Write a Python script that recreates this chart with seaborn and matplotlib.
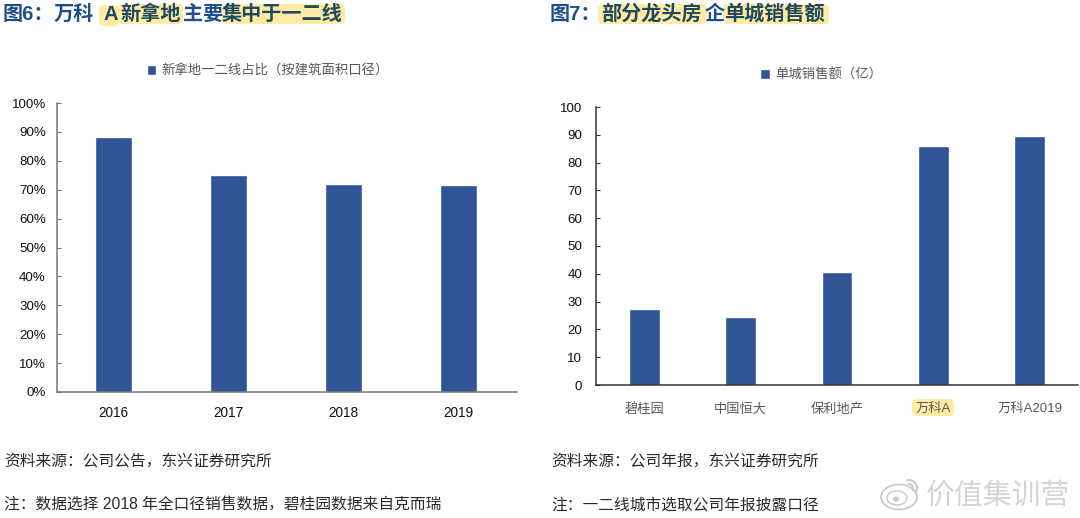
import matplotlib
matplotlib.use("Agg")
import matplotlib.pyplot as plt
import seaborn as sns
import pandas as pd
from matplotlib.patches import FancyBboxPatch, Ellipse, Arc
from matplotlib.ticker import FuncFormatter

years = ["2016", "2017", "2018", "2019"]
share = [88.1, 75, 72, 71.6]
share_label = "新拿地一二线占比（按建筑面积口径）"
firms = ["碧桂园", "中国恒大", "保利地产", "万科A", "万科A2019"]
sales = [27.3, 24.3, 40.5, 85.8, 89.4]
sales_label = "单城销售额（亿）"

sns.set_theme(style="white")
FONTS = ["Liberation Sans", "Noto Sans CJK SC", "DejaVu Sans"]
plt.rcParams["font.family"] = FONTS

W, H = 1080, 518
BLUE = "#2F5597"
NAVY = "#1F4E8C"
DARK = "#1F4A5E"
YEL = "#FFEBA6"
GREY = "#595959"

fig = plt.figure(figsize=(W / 100, H / 100), dpi=100, facecolor="white")


def fx(x):
    return x / W


def fy(y):
    return 1 - y / H


def make_ax(x0, x1, ytop, ybot):
    return fig.add_axes([fx(x0), fy(ybot), fx(x1 - x0), (ybot - ytop) / H])


def hl(x0, x1, y0, y1):
    fig.add_artist(FancyBboxPatch((x0, H - y1), x1 - x0, y1 - y0,
                                  boxstyle="round,pad=0,rounding_size=5",
                                  transform=None, fc=YEL, ec="none", zorder=-1))


def style(ax, spine, pad):
    ax.set_xlabel("")
    ax.set_ylabel("")
    sns.despine(ax=ax)
    for s in ("left", "bottom"):
        ax.spines[s].set_color(spine)
        ax.spines[s].set_linewidth(1.1)
    ax.tick_params(axis="y", direction="in", length=3, width=0.8, color=spine,
                   labelsize=9.6, labelcolor="#111111", pad=pad, left=True)
    ax.tick_params(axis="x", length=0, labelsize=9.8, labelcolor="#111111", pad=10)


# left chart
ax1 = make_ax(57, 517, 103, 392)
sns.barplot(data=pd.DataFrame({"y": years, "v": share}), x="y", y="v", color=BLUE,
            width=0.325, saturation=1, ax=ax1, label=share_label)
ax1.set_xlim(-0.49, 3.51)
ax1.set_ylim(0, 100)
ax1.set_yticks(range(0, 101, 10))
ax1.yaxis.set_major_formatter(FuncFormatter(lambda v, _: f"{int(v)}%"))
style(ax1, "#767676", 8)
ax1.legend(loc="center", bbox_to_anchor=(fx(268), fy(71)), bbox_transform=fig.transFigure,
           frameon=False, fontsize=9.6, labelcolor=GREY, handlelength=0.7, handleheight=0.7,
           handletextpad=0.4)

# right chart
ax2 = make_ax(596, 1078, 107, 385)
sns.barplot(data=pd.DataFrame({"y": firms, "v": sales}), x="y", y="v", color=BLUE,
            width=0.32, saturation=1, ax=ax2, label=sales_label)
ax2.set_xlim(-0.5, 4.5)
ax2.set_ylim(0, 100)
ax2.set_yticks(range(0, 101, 10))
style(ax2, "#333333", 10)
ax2.tick_params(axis="x", labelcolor=GREY, labelsize=9.5, pad=13)
ax2.legend(loc="center", bbox_to_anchor=(fx(821), fy(75)), bbox_transform=fig.transFigure,
           frameon=False, fontsize=9.6, labelcolor=GREY, handlelength=0.7, handleheight=0.7,
           handletextpad=0.4)
hl(912, 954, 399, 416)

# title highlights
hl(99, 119, 5, 26)
hl(118, 183, 4, 24)
hl(222, 345, 4, 24)
hl(598, 707, 4, 24)
hl(723, 829, 4, 24)


def title(x, s, c):
    fig.text(fx(x), fy(14), s, color=c, fontsize=14.5, fontweight="bold", va="center", ha="left")


title(3, "图6：", NAVY)
title(54, "万科", NAVY)
title(103, "A", DARK)
title(120, "新拿地", DARK)
title(183, "主要", NAVY)
title(222, "集中于一二线", DARK)
title(550, "图7：", NAVY)
title(601, "部分龙头房", DARK)
title(705, "企", NAVY)
title(724, "单城销售额", DARK)


def note(x, y, s):
    fig.text(fx(x), fy(y), s, color="#2a2a2a", fontsize=11.3, fontweight="light", va="center", ha="left")


note(4, 461, "资料来源：公司公告，东兴证券研究所")
note(4, 505, "注：数据选择 2018 年全口径销售数据，碧桂园数据来自克而瑞")
note(551, 461, "资料来源：公司年报，东兴证券研究所")
note(551, 505, "注：一二线城市选取公司年报披露口径")

# watermark
MARK = "#c8c8c8"
fig.text(fx(926), fy(496), "价值集训营", color="#d4d4d4", fontsize=20.8, va="center", ha="left")
for art in (
    Ellipse((899, H - 497), 36, 25, fc="none", ec=MARK, lw=1.2, transform=None),
    Ellipse((897, H - 498), 20, 14, fc="none", ec=MARK, lw=1.0, transform=None),
    Ellipse((896, H - 499), 6, 5, fc=MARK, ec="none", transform=None),
    Arc((909, H - 488), 16, 16, theta1=-40, theta2=110, ec=MARK, lw=1.5, transform=None),
    Arc((909, H - 488), 8, 8, theta1=-40, theta2=110, ec=MARK, lw=1.2, transform=None),
):
    fig.add_artist(art)

fig.savefig("out.png", dpi=100, facecolor="white")
